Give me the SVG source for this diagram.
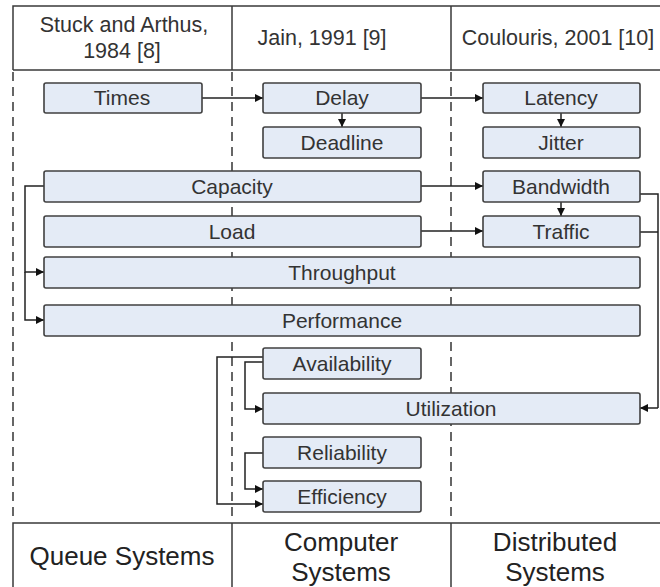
<svg xmlns="http://www.w3.org/2000/svg" width="660" height="587" viewBox="0 0 660 587">
  <style>
    .frame { fill: none; stroke: #3a3a3a; stroke-width: 1.5; }
    .col { fill: none; stroke: #666; stroke-width: 2; stroke-dasharray: 9 6; }
    .box { fill: #e4ebf6; stroke: #404040; stroke-width: 1.6; }
    .lbl { font-family: "Liberation Sans", Arial, sans-serif; font-size: 21px; fill: #333; text-anchor: middle; }
    .hdr { font-family: "Liberation Sans", Arial, sans-serif; font-size: 21.5px; fill: #333; text-anchor: middle; }
    .ftr { font-family: "Liberation Sans", Arial, sans-serif; font-size: 26px; fill: #222; text-anchor: middle; }
    .link { fill: none; stroke: #222; stroke-width: 1.5; }
    .arr { marker-end: url(#head); }
  </style>
  <defs>
    <marker id="head" viewBox="0 0 10 10" refX="10" refY="5" markerWidth="8" markerHeight="8" markerUnits="userSpaceOnUse" orient="auto">
      <path d="M0,0 L10,5 L0,10 z" fill="#111"/>
    </marker>
  </defs>

  <rect width="660" height="587" fill="#fff"/>

  <!-- header row -->
  <g id="header">
    <path class="frame" d="M13,70 V6 H660 M13,70 H660 M232,6 V70 M451,6 V70"/>
    <text class="hdr" x="124" y="32">Stuck and Arthus,</text>
    <text class="hdr" x="122" y="58">1984 [8]</text>
    <text class="hdr" x="322" y="45">Jain, 1991 [9]</text>
    <text class="hdr" x="558" y="45">Coulouris, 2001 [10]</text>
  </g>

  <!-- column separators -->
  <g id="columns">
    <line class="col" x1="13" y1="72" x2="13" y2="522"/>
    <line class="col" x1="232" y1="72" x2="232" y2="522"/>
    <line class="col" x1="451" y1="72" x2="451" y2="522"/>
  </g>

  <!-- footer row -->
  <g id="footer">
    <path class="frame" d="M13,587 V523 H660 M232,523 V587 M451,523 V587"/>
    <text class="ftr" x="122" y="565">Queue Systems</text>
    <text class="ftr" x="341" y="551">Computer</text>
    <text class="ftr" x="341" y="581">Systems</text>
    <text class="ftr" x="555" y="551">Distributed</text>
    <text class="ftr" x="555" y="581">Systems</text>
  </g>

  <!-- connectors -->
  <g id="connectors">
    <path class="link arr" d="M202,98 H263"/>
    <path class="link arr" d="M421,98 H483"/>
    <path class="link arr" d="M342,113 V127"/>
    <path class="link arr" d="M561,113 V127"/>
    <path class="link arr" d="M421,186 H483"/>
    <path class="link arr" d="M421,231 H483"/>
    <path class="link arr" d="M561,202 V216"/>
    <path class="link arr" d="M44,186 H25 V272 H44"/>
    <path class="link arr" d="M25,272 V320 H44"/>
    <path class="link" d="M640,194 H658 V408"/>
    <path class="link" d="M640,232 H658"/>
    <path class="link arr" d="M658,408 H640"/>
    <path class="link arr" d="M263,357 H217 V504 H263"/>
    <path class="link arr" d="M263,362 H245 V409 H263"/>
    <path class="link arr" d="M263,453 H245 V489 H263"/>
  </g>

  <!-- nodes -->
  <g id="times"><rect class="box" x="44" y="83" width="158" height="30" rx="2"/><text class="lbl" x="122" y="105">Times</text></g>
  <g id="delay"><rect class="box" x="263" y="83" width="158" height="30" rx="2"/><text class="lbl" x="342" y="105">Delay</text></g>
  <g id="deadline"><rect class="box" x="263" y="127" width="158" height="31" rx="2"/><text class="lbl" x="342" y="150">Deadline</text></g>
  <g id="latency"><rect class="box" x="483" y="83" width="157" height="30" rx="2"/><text class="lbl" x="561" y="105">Latency</text></g>
  <g id="jitter"><rect class="box" x="483" y="127" width="157" height="31" rx="2"/><text class="lbl" x="561" y="150">Jitter</text></g>
  <g id="capacity"><rect class="box" x="44" y="171" width="377" height="31" rx="2"/><text class="lbl" x="232" y="194">Capacity</text></g>
  <g id="bandwidth"><rect class="box" x="483" y="171" width="157" height="31" rx="2"/><text class="lbl" x="561" y="194">Bandwidth</text></g>
  <g id="load"><rect class="box" x="44" y="216" width="377" height="31" rx="2"/><text class="lbl" x="232" y="239">Load</text></g>
  <g id="traffic"><rect class="box" x="483" y="216" width="157" height="31" rx="2"/><text class="lbl" x="561" y="239">Traffic</text></g>
  <g id="throughput"><rect class="box" x="44" y="257" width="596" height="31" rx="2"/><text class="lbl" x="342" y="280">Throughput</text></g>
  <g id="performance"><rect class="box" x="44" y="305" width="596" height="31" rx="2"/><text class="lbl" x="342" y="328">Performance</text></g>
  <g id="availability"><rect class="box" x="263" y="348" width="158" height="31" rx="2"/><text class="lbl" x="342" y="371">Availability</text></g>
  <g id="utilization"><rect class="box" x="263" y="393" width="377" height="31" rx="2"/><text class="lbl" x="451" y="416">Utilization</text></g>
  <g id="reliability"><rect class="box" x="263" y="437" width="158" height="31" rx="2"/><text class="lbl" x="342" y="460">Reliability</text></g>
  <g id="efficiency"><rect class="box" x="263" y="481" width="158" height="31" rx="2"/><text class="lbl" x="342" y="504">Efficiency</text></g>
</svg>
